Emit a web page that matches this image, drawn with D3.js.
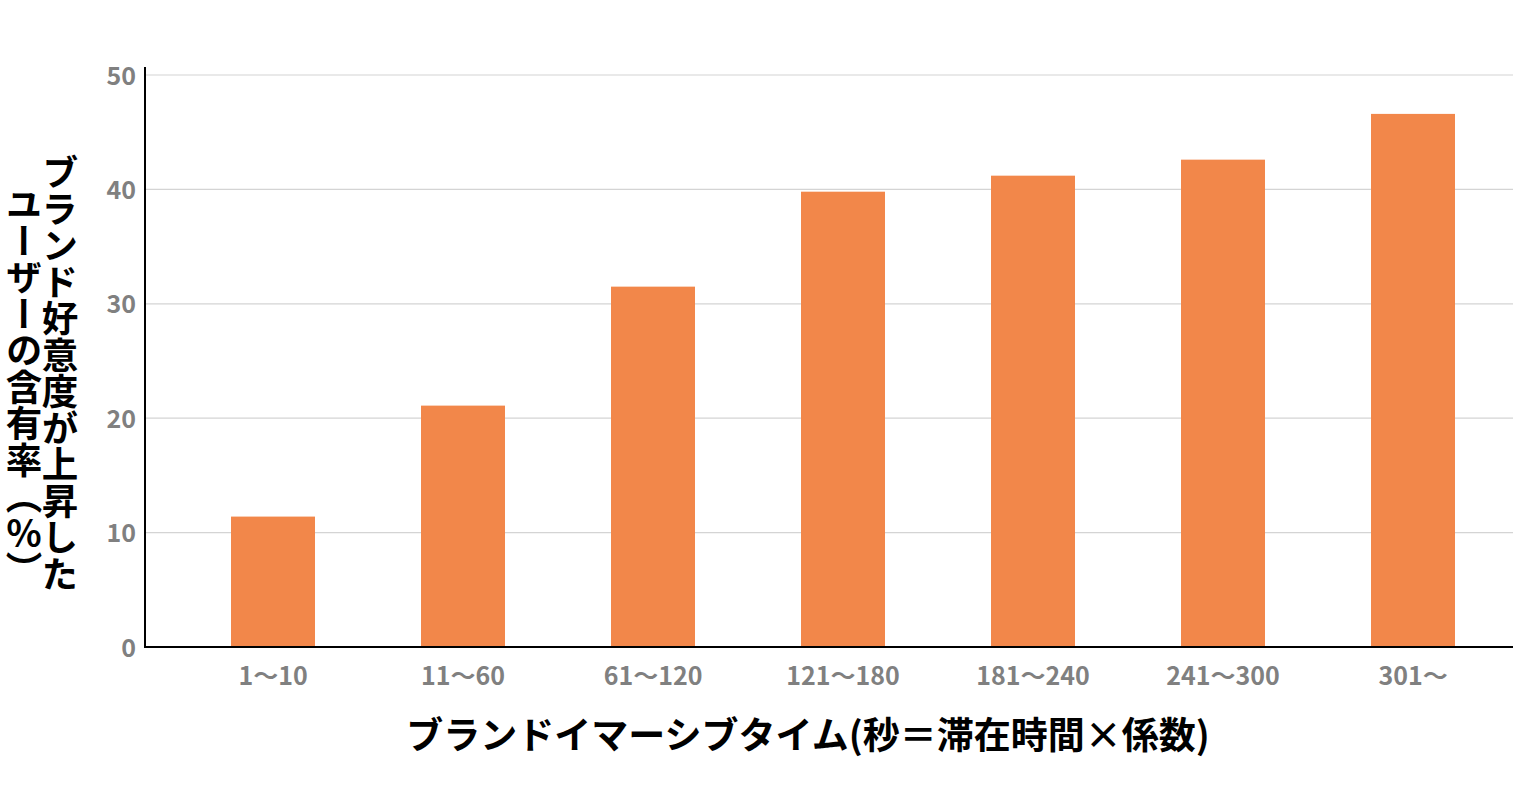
<!DOCTYPE html>
<html><head><meta charset="utf-8">
<script src="https://cdn.jsdelivr.net/npm/d3@7"></script>
<style>
html,body{margin:0;padding:0;background:#fff;}
svg{display:block;}
text{font-family:"Noto Sans CJK JP","Noto Sans",sans-serif;}
</style></head><body>
<svg id="chart" width="1528" height="800"></svg>
<script>
const categories = ["1～10","11～60","61～120","121～180","181～240","241～300","301～"];
const values = [11.4, 21.1, 31.5, 39.8, 41.2, 42.6, 46.6];
const yTicks = [0,10,20,30,40,50];
const xTitle = "ブランドイマーシブタイム(秒＝滞在時間×係数)";
const yTitleLines = ["ブランド好意度が上昇した","ユーザーの含有率（％）"];

const svg = d3.select("#chart");
const x = d3.scaleBand().domain(categories).range([178,1508]).paddingInner(0.558).paddingOuter(0.279);
const y = d3.scaleLinear().domain([0,50]).range([647,75]);

// gridlines
svg.append("g").selectAll("line").data(yTicks.filter(d=>d>0)).join("line")
  .attr("x1",145).attr("x2",1513).attr("y1",d=>y(d)).attr("y2",d=>y(d))
  .attr("stroke","#d4d4d4").attr("stroke-width",1.2);

// bars
svg.append("g").selectAll("rect").data(values).join("rect")
  .attr("x",(d,i)=>x(categories[i])).attr("width",x.bandwidth())
  .attr("y",d=>y(d)).attr("height",d=>y(0)-y(d))
  .attr("fill","#f2874a");

// y axis
const yAxis = svg.append("g").attr("transform","translate(145,0)")
  .call(d3.axisLeft(y).tickValues(yTicks).tickSize(0).tickPadding(9));
yAxis.select(".domain").remove();
yAxis.selectAll("text").attr("font-size",25).attr("font-weight",700).attr("fill","#808080")
  .attr("font-family","'Noto Sans CJK JP',sans-serif").attr("dy","0.36em");
svg.append("line").attr("x1",145).attr("x2",145).attr("y1",67).attr("y2",648)
  .attr("stroke","#000").attr("stroke-width",2);

// x axis
const xAxis = svg.append("g").attr("transform","translate(0,647)")
  .call(d3.axisBottom(x).tickSize(0).tickPadding(20));
xAxis.select(".domain").remove();
xAxis.selectAll("text").attr("font-size",25).attr("font-weight",700).attr("fill","#808080")
  .attr("font-family","'Noto Sans CJK JP',sans-serif");
svg.append("line").attr("x1",144).attr("x2",1513).attr("y1",647).attr("y2",647)
  .attr("stroke","#000").attr("stroke-width",2);

// x title
svg.append("text").attr("x",808).attr("y",749).attr("text-anchor","middle")
  .attr("font-size",37).attr("font-weight",700).attr("fill","#000").text(xTitle);

// y title (vertical)
const colX = [60, 24], colY = [154, 186];
yTitleLines.forEach((t,i)=>{
  svg.append("text").attr("x",colX[i]).attr("y",colY[i])
    .style("writing-mode","vertical-rl").style("text-orientation","mixed")
    .attr("font-size",36.5).attr("font-weight",700).attr("fill","#000").text(t);
});
</script>
</body></html>
